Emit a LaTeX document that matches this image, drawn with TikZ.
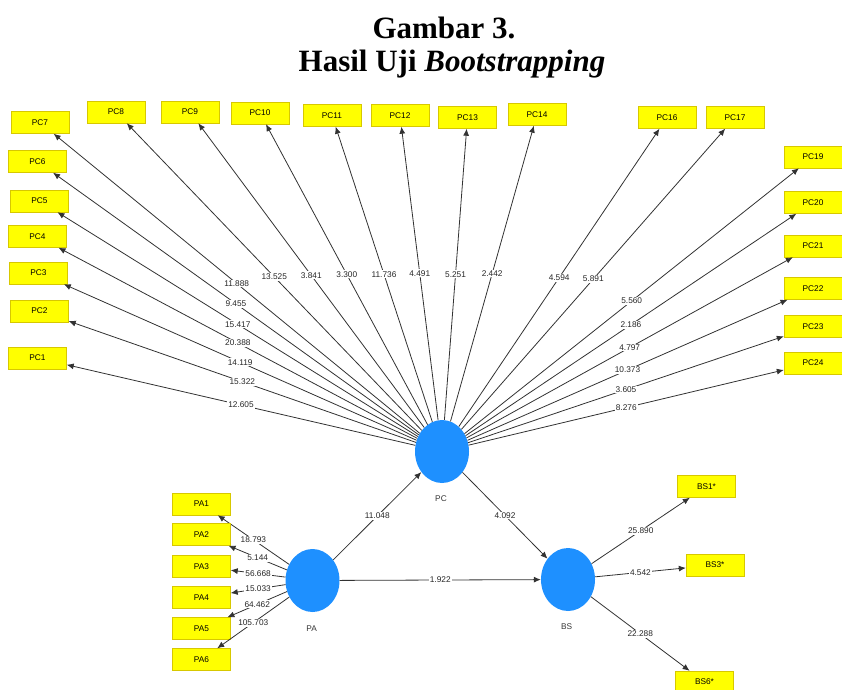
\documentclass[tikz,border=0pt]{standalone}
\usepackage{fontspec}
\setmainfont{Liberation Serif}
\newfontfamily\diagfont{Liberation Sans}
\usetikzlibrary{shapes.geometric,arrows.meta,positioning}

\definecolor{plsblue}{RGB}{30,144,255}
\definecolor{indyellow}{RGB}{255,255,0}
\definecolor{indborder}{RGB}{215,200,0}
\definecolor{pathgray}{RGB}{50,50,50}

\begin{document}
\begin{tikzpicture}[
    x=1pt, y=-1pt,
    indicator/.style={rectangle, draw=indborder, fill=indyellow,
                      minimum width=58pt, minimum height=22pt, inner sep=0pt,
                      font=\diagfont\fontsize{8.3}{9}\selectfont},
    latent/.style={ellipse, fill=plsblue, minimum width=54pt,
                   minimum height=63pt, inner sep=0pt},
    lvname/.style={font=\diagfont\fontsize{8.3}{9}\selectfont, text=black!80},
    arrow/.style={-{Latex[length=7pt,width=6pt]}, draw=pathgray, line width=0.8pt},
    tval/.style={fill=white, inner sep=1pt, text=black!85,
                 font=\diagfont\fontsize{8.3}{9}\selectfont},
    title/.style={font=\bfseries\fontsize{31}{36}\selectfont, anchor=base}
]
\useasboundingbox (0,0) rectangle (842,689);

% Title
\node[title] (title1) at (444,38) {Gambar 3.};
\node[title] (title2) at (452,71) {Hasil Uji \textit{Bootstrapping}};

% Latent variables
\node[latent] (pc) at (442,451.5) {};
\node[latent] (pa) at (312.5,580.5) {};
\node[latent] (bs) at (568,579.5) {};
\node[lvname] (pcname) at (441,499) {PC};
\node[lvname] (paname) at (311.7,629) {PA};
\node[lvname] (bsname) at (566.7,627) {BS};

% PC indicators
\foreach \name/\x/\y/\val in {
    PC1/37.5/358/12.605, PC2/39.5/311/15.322, PC3/38.5/273/14.119,
    PC4/37.5/236.5/20.388, PC5/39.5/201/15.417, PC6/37.5/161.5/9.455,
    PC7/40/122.5/11.888, PC8/116/112/13.525, PC9/190/112/3.841,
    PC10/260/113/3.300, PC11/332/115.5/11.736, PC12/400/115.5/4.491,
    PC13/467.5/117.5/5.251, PC14/537/114.5/2.442, PC16/667/117.5/4.594,
    PC17/735/117.5/5.891, PC19/813/157/5.560, PC20/813/202.5/2.186,
    PC21/813/246/4.797, PC22/813/288.5/10.373, PC23/813/326.5/3.605,
    PC24/813/363/8.276} {
    \node[indicator] (\name) at (\x,\y) {\name};
    \draw[arrow] (pc) -- (\name) node[tval, midway] {\val};
}

% PA indicators
\foreach \i/\y/\val in {1/504/18.793, 2/534.5/5.144, 3/566.5/56.668,
                        4/597.5/15.033, 5/628.5/64.462, 6/659.5/105.703} {
    \node[indicator] (PA\i) at (201.5,\y) {PA\i};
    \draw[arrow] (pa) -- (PA\i) node[tval, midway] {\val};
}

% BS indicators
\foreach \i/\x/\y/\val in {1/706.5/486.5/25.890, 3/715/565/4.542,
                           6/704.5/682/22.288} {
    \node[indicator] (BS\i) at (\x,\y) {BS\i*};
    \draw[arrow] (bs) -- (BS\i) node[tval, midway] {\val};
}

% Structural paths
\draw[arrow] (pa) -- (pc) node[tval, midway] {11.048};
\draw[arrow] (pc) -- (bs) node[tval, midway] {4.092};
\draw[arrow] (pa) -- (bs) node[tval, midway] {1.922};

\end{tikzpicture}
\end{document}
